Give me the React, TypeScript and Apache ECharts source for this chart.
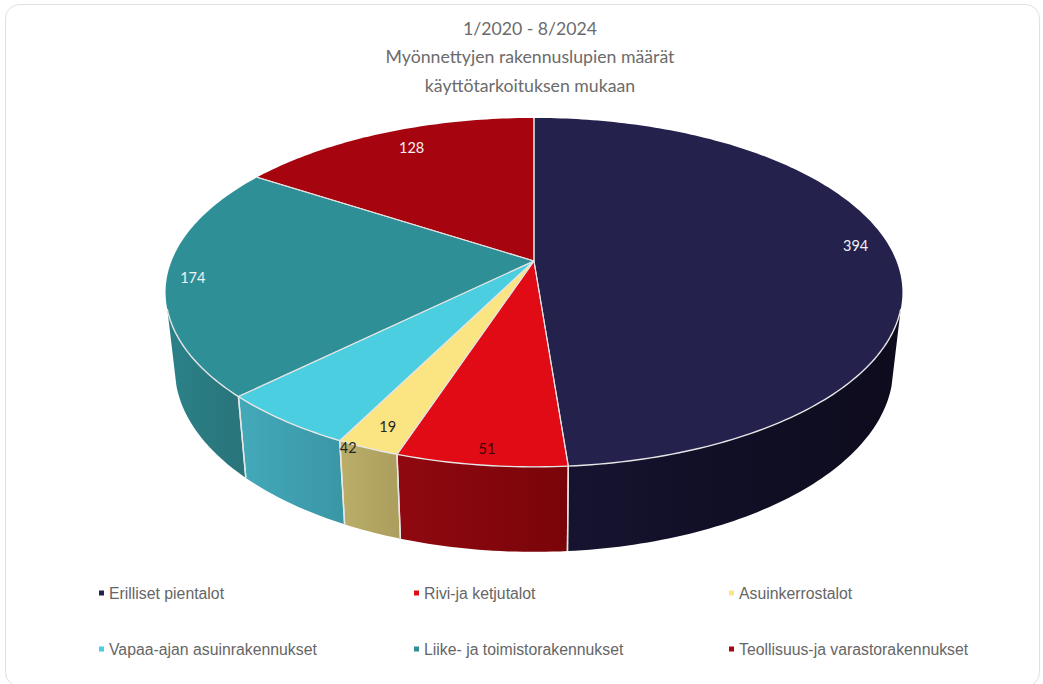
import React, { useEffect, useRef } from "react";
import * as echarts from "echarts";

const categories = [
  "Erilliset pientalot",
  "Rivi-ja ketjutalot",
  "Asuinkerrostalot",
  "Vapaa-ajan asuinrakennukset",
  "Liike- ja toimistorakennukset",
  "Teollisuus-ja varastorakennukset",
];
const values = [394, 51, 19, 42, 174, 128];
const titleLines = ["1/2020 - 8/2024", "Myönnettyjen rakennuslupien määrät", "käyttötarkoituksen mukaan"];

const topColors = ["#24214d", "#e00b14", "#fbe582", "#4bcfe0", "#2e8f97", "#a6050f"];
const wallLeft = ["#15132f", "#900810", "#bbae68", "#43a9b9", "#2b8188", "#700308"];
const wallRight = ["#0d0b1c", "#790509", "#ab9e5e", "#3a96a5", "#29747a", "#700308"];
const labelColors = ["#f2f2f2", "#3a0508", "#262626", "#262626", "#f2f2f2", "#f2f2f2"];
// label position relative to the rim point at the slice's middle angle
const labelInsets = [[-38, -9], [6, -17], [20, -22], [64, 27], [26, -1], [27, 15]];

const total = values.reduce((a, b) => a + b, 0);
const CX = 534, CY = 261, A = 362.4, B = 168.8, K = 0.18;
const BOTTOM_Y = 335.4, BOTTOM_B = 177.5, BOTTOM_S = 0.975;

const rad = (d: number) => (d * Math.PI) / 180;
const topPt = (deg: number): number[] => {
  const u = Math.sin(rad(deg)), v = -Math.cos(rad(deg));
  const w = 1 - K * v;
  return [CX + (A * u) / w, CY + (B * v) / w];
};
const bottomPt = (deg: number): number[] => {
  const u = Math.sin(rad(deg)), v = -Math.cos(rad(deg));
  const w = 1 - K * v;
  return [CX + (BOTTOM_S * A * u) / w, BOTTOM_Y + (BOTTOM_B * v) / w];
};
const sampled = (from: number, to: number, step: number) => {
  const n = Math.max(1, Math.ceil((to - from) / step));
  return Array.from({ length: n + 1 }, (_, i) => from + ((to - from) * i) / n);
};
const isFront = (deg: number) => -Math.cos(rad(deg)) >= 0.27;

const renderSlice = (index: number) => (_params: any, api: any) => {
  const before = values.slice(0, index).reduce((a, b) => a + b, 0);
  const value = api.value(0);
  const start = (before / total) * 360;
  const end = ((before + value) / total) * 360;
  const children: any[] = [];
  const lineStyle = { stroke: "#e6e6e6", lineWidth: 1.4, fill: "none" };

  const angles = sampled(start, end, 1).filter(isFront);
  if (angles.length > 1) {
    const topEdge = angles.map(topPt);
    const bottomEdge = angles.map(bottomPt).reverse();
    children.push({
      type: "polygon",
      z2: 1,
      shape: { points: [...topEdge, ...bottomEdge] },
      style: {
        fill: new echarts.graphic.LinearGradient(0, 0, 1, 0, [
          { offset: 0, color: wallLeft[index] },
          { offset: 1, color: wallRight[index] },
        ]),
      },
    });
    children.push({ type: "polyline", z2: 4, shape: { points: topEdge }, style: lineStyle });
  }
  [start, end].filter(isFront).forEach((a) => {
    children.push({
      type: "line",
      z2: 2,
      shape: { x1: topPt(a)[0], y1: topPt(a)[1], x2: bottomPt(a)[0], y2: bottomPt(a)[1] },
      style: lineStyle,
    });
  });

  const rim = sampled(start, end, 1).map(topPt);
  children.push({
    type: "polygon",
    z2: 3,
    shape: { points: [[CX, CY], ...rim] },
    style: { fill: topColors[index] },
  });
  [start, end].forEach((a) => {
    children.push({
      type: "line",
      z2: 4,
      shape: { x1: CX, y1: CY, x2: topPt(a)[0], y2: topPt(a)[1] },
      style: { stroke: "#e2e2e2", lineWidth: 1.1, fill: "none" },
    });
  });

  const mid = topPt((start + end) / 2);
  children.push({
    type: "text",
    z2: 5,
    style: {
      text: String(value),
      x: mid[0] + labelInsets[index][0],
      y: mid[1] + labelInsets[index][1],
      fill: labelColors[index],
      font: '14.5px Lato, "Noto Sans", sans-serif',
      align: "center",
      verticalAlign: "middle",
    },
  });
  return { type: "group", children };
};

const legendLefts = [99, 414, 729];
const legendTops = [585, 641];

export default function App() {
  const ref = useRef<HTMLDivElement>(null);
  useEffect(() => {
    const chart = echarts.init(ref.current!, null, { renderer: "svg" });
    chart.setOption({
      animation: false,
      backgroundColor: "#ffffff",
      graphic: {
        elements: [
          {
            type: "rect",
            z: -10,
            shape: { x: 5.5, y: 4.5, width: 1034, height: 682, r: 14 },
            style: { fill: "none", stroke: "#e0e0e0", lineWidth: 1 },
          },
        ],
      },
      title: {
        text: titleLines.join("\n"),
        left: 530,
        top: 14,
        textAlign: "center",
        padding: 0,
        textStyle: {
          fontFamily: 'Lato, "Noto Sans", sans-serif',
          fontSize: 17.7,
          fontWeight: "normal",
          color: "#6b6b6b",
          lineHeight: 28.5,
        },
      },
      legend: categories.map((name, i) => ({
        data: [name],
        left: legendLefts[i % 3],
        top: legendTops[Math.floor(i / 3)],
        padding: 0,
        icon: "rect",
        itemWidth: 5,
        itemHeight: 5,
        selectedMode: false,
        textStyle: { fontFamily: '"Liberation Sans", Arial, sans-serif', fontSize: 15.8, color: "#666666" },
      })),
      series: categories.map((name, i) => ({
        type: "custom",
        name,
        coordinateSystem: "none",
        itemStyle: { color: topColors[i] },
        data: [[values[i]]],
        renderItem: renderSlice(i),
      })),
    });
    return () => chart.dispose();
  }, []);
  return <div ref={ref} style={{ position: "fixed", left: 0, top: 0, width: 1043, height: 684 }} />;
}
